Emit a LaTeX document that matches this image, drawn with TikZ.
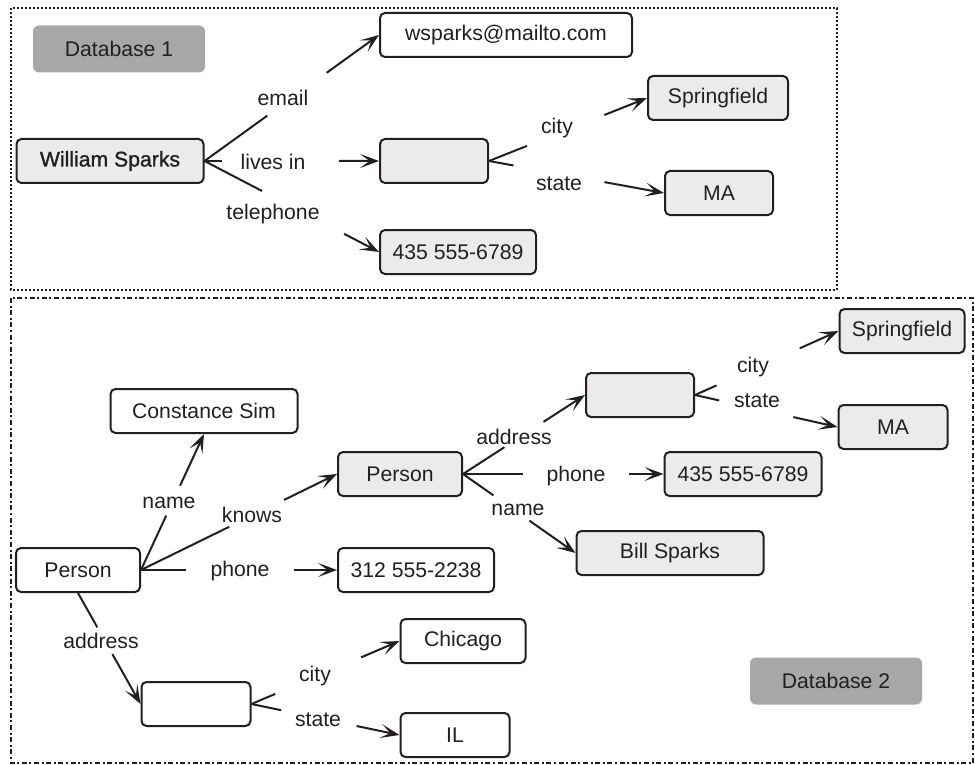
\documentclass[tikz,border=0pt]{standalone}
\usepackage{fontspec}
\setmainfont{Liberation Sans}
\newfontfamily\heavyfont{Liberation Sans}[FakeBold=1.2]
\usepackage{tikz}
\usetikzlibrary{arrows.meta,calc}

\definecolor{nodegrey}{HTML}{EBEBED}
\definecolor{taggrey}{HTML}{A6A7A9}
\definecolor{ink}{HTML}{231F20}

\begin{document}
\begin{tikzpicture}[x=0.5pt,y=-0.5pt,font=\fontsize{10.6}{12}\selectfont,>={Stealth[length=9.5pt,width=7pt,inset=4.8pt]},
  box/.style={rectangle,rounded corners=2.5pt,draw=ink,text=ink,line width=1pt,minimum height=22pt,inner sep=0pt,align=center},
  plain/.style={box,fill=white},
  shaded/.style={box,fill=nodegrey},
  tag/.style={rectangle,rounded corners=3pt,fill=taggrey,text=ink,minimum height=23.5pt,minimum width=86pt},
  conn/.style={draw=ink,line width=1pt},
  lbl/.style={text=ink,inner sep=1pt}]
\useasboundingbox (0,0) rectangle (975,765);
% database frames
\draw[ink,line width=1pt,dash pattern=on 1pt off 1pt] (11,8) rectangle (837,290);
\draw[ink,line width=1pt,dash pattern=on 2.5pt off 1.3pt on 1pt off 1.3pt] (11,298) rectangle (973,763);
\node[tag] (db1) at (119,49) {Database 1};
\node[tag] (db2) at (836,681) {Database 2};

% database 1
\node[shaded,minimum width=93.5pt] (ws) at (110,161) {\heavyfont William Sparks};
\node[plain,minimum width=126pt] (mail) at (506,35) {wsparks@mailto.com};
\node[shaded,minimum width=54pt] (home) at (434,161) {};
\node[shaded,minimum width=70pt] (spring) at (718,98) {Springfield};
\node[shaded,minimum width=54pt] (ma) at (719,193) {MA};
\node[shaded,minimum width=78pt] (tel) at (458,252) {435 555-6789};

\node[lbl] (lemail) at (283,98) {email};
\node[lbl] (llives) at (273,162) {lives in};
\node[lbl] (ltel) at (273,214) {telephone};
\node[lbl] (lcity) at (557,128) {city};
\node[lbl] (lstate) at (559,184) {state};

\draw[conn] (ws.east) -- ($(ws.east)!.36!(mail.west)$) ($(ws.east)!.70!(mail.west)$) edge[->] (mail.west);
\draw[conn] (ws.east) -- ($(ws.east)!.10!(home.west)$) ($(ws.east)!.77!(home.west)$) edge[->] (home.west);
\draw[conn] (ws.east) -- ($(ws.east)!.33!(tel.west)$) ($(ws.east)!.80!(tel.west)$) edge[->] (tel.west);
\draw[conn] (home.east) -- ($(home.east)!.24!(spring.west)$) ($(home.east)!.73!(spring.west)$) edge[->] (spring.west);
\draw[conn] (home.east) -- ($(home.east)!.14!(ma.west)$) ($(home.east)!.66!(ma.west)$) edge[->] (ma.west);

% database 2
\node[plain,minimum width=62pt] (p1) at (78,570) {Person};
\node[plain,minimum width=93.5pt] (cs) at (204,411) {Constance Sim};
\node[shaded,minimum width=62pt] (p2) at (400,474) {Person};
\node[plain,minimum width=78pt] (ph1) at (416,570) {312 555-2238};
\node[plain,minimum width=54.5pt] (addr1) at (196,704) {};
\node[plain,minimum width=62.5pt] (chi) at (463,641) {Chicago};
\node[plain,minimum width=54.5pt] (il) at (455,735) {IL};
\node[shaded,minimum width=54pt] (addr2) at (640,395) {};
\node[shaded,minimum width=62.5pt] (spring2) at (902,331) {Springfield};
\node[shaded,minimum width=54.5pt] (ma2) at (893,427) {MA};
\node[shaded,minimum width=78.5pt] (ph2) at (743,474) {435 555-6789};
\node[shaded,minimum width=93.5pt] (bill) at (670,553) {Bill Sparks};

\node[lbl] (lname1) at (169,503) {name};
\node[lbl] (lknows) at (252,515) {knows};
\node[lbl] (lphone1) at (240,571) {phone};
\node[lbl] (laddr1) at (101,641) {address};
\node[lbl] (lcity1) at (315,676) {city};
\node[lbl] (lstate1) at (318,720) {state};
\node[lbl] (laddr2) at (514,437) {address};
\node[lbl] (lphone2) at (576,476) {phone};
\node[lbl] (lname2) at (518,510) {name};
\node[lbl] (lcity2) at (753,367) {city};
\node[lbl] (lstate2) at (757,401) {state};

\draw[conn] (p1.east) -- ($(p1.east)!.40!(cs.south)$) ($(p1.east)!.62!(cs.south)$) edge[->] (cs.south);
\draw[conn] (p1.east) -- ($(p1.east)!.45!(p2.west)$) ($(p1.east)!.73!(p2.west)$) edge[->] (p2.west);
\draw[conn] (p1.east) -- ($(p1.east)!.23!(ph1.west)$) ($(p1.east)!.78!(ph1.west)$) edge[->] (ph1.west);
\draw[conn] (p1.south) -- ($(p1.south)!.31!(addr1.west)$) ($(p1.south)!.55!(addr1.west)$) edge[->] (addr1.west);
\draw[conn] (addr1.east) -- ($(addr1.east)!.16!(chi.west)$) ($(addr1.east)!.74!(chi.west)$) edge[->] (chi.west);
\draw[conn] (addr1.east) -- ($(addr1.east)!.20!(il.west)$) ($(addr1.east)!.71!(il.west)$) edge[->] (il.west);
\draw[conn] (p2.east) -- ($(p2.east)!.34!(addr2.west)$) ($(p2.east)!.66!(addr2.west)$) edge[->] (addr2.west);
\draw[conn] (p2.east) -- ($(p2.east)!.30!(ph2.west)$) ($(p2.east)!.83!(ph2.west)$) edge[->] (ph2.west);
\draw[conn] (p2.east) -- ($(p2.east)!.27!(bill.west)$) ($(p2.east)!.59!(bill.west)$) edge[->] (bill.west);
\draw[conn] (addr2.east) -- ($(addr2.east)!.15!(spring2.west)$) ($(addr2.east)!.73!(spring2.west)$) edge[->] (spring2.west);
\draw[conn] (addr2.east) -- ($(addr2.east)!.17!(ma2.west)$) ($(addr2.east)!.69!(ma2.west)$) edge[->] (ma2.west);
\end{tikzpicture}
\end{document}
